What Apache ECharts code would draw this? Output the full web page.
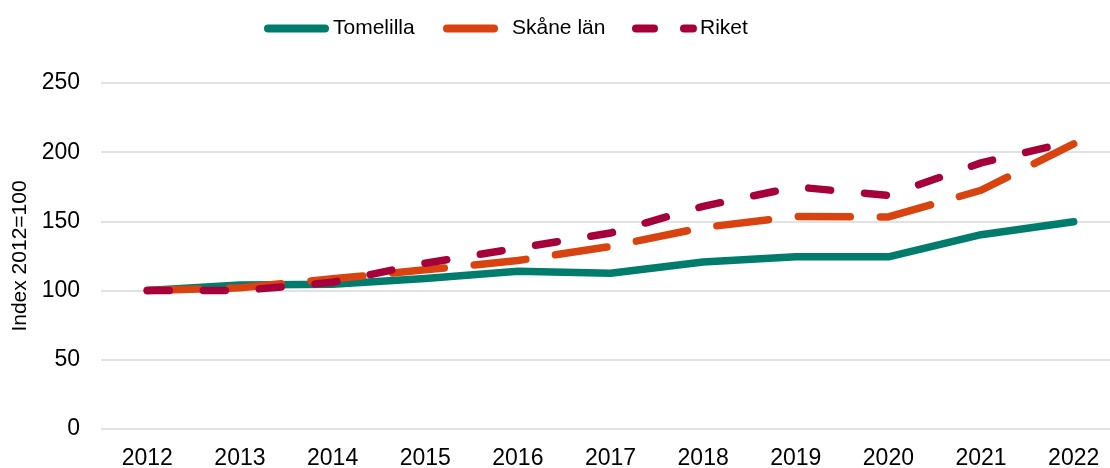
<!DOCTYPE html>
<html>
<head>
<meta charset="utf-8">
<script src="https://cdn.jsdelivr.net/npm/echarts@6/dist/echarts.min.js"></script>
<style>
  html, body { margin: 0; padding: 0; background: #fff; }
  #chart { width: 1110px; height: 468px; }
</style>
</head>
<body>
<div id="chart"></div>
<script>
// år på x-axeln
var years = ['2012', '2013', '2014', '2015', '2016', '2017', '2018', '2019', '2020', '2021', '2022'];
// index 2012=100
var tomelilla = [100, 104, 104.6, 108.7, 114, 112.6, 120.6, 124.4, 124.4, 140.4, 149.8];
var skane = [100, 102, 108.5, 115, 121.7, 131.9, 145.6, 153.6, 153.2, 172.5, 206];
var riket = [100, 100, 106, 119.8, 130.7, 141.6, 160.9, 174.9, 168.8, 192.3, 208];
var yTicks = [0, 50, 100, 150, 200, 250];

var font = 'Liberation Sans, Arial, sans-serif';
var cTeal = '#007c6d', cOrange = '#d9430f', cRed = '#a6003a';

// legendikoner, heldragen och streckad
var pill = 'path://M4,0 H61 A4,4 0 0 1 61,8 H4 A4,4 0 0 1 4,0 Z';
var pillShort = 'path://M4,0 H51 A4,4 0 0 1 51,8 H4 A4,4 0 0 1 4,0 Z';
var dashes = 'path://M4,0 H22 A4,4 0 0 1 22,8 H4 A4,4 0 0 1 4,0 Z M52,0 H61 A4,4 0 0 1 61,8 H52 A4,4 0 0 1 52,0 Z';

var chart = echarts.init(document.getElementById('chart'), null, { renderer: 'canvas' });

function leg(name, icon, left, w, gap) {
  return {
    data: [name],
    icon: icon,
    left: left,
    top: 18,
    padding: 0,
    itemWidth: w,
    itemHeight: 8,
    itemGap: 0,
    itemStyle: { borderWidth: 0 },
    textStyle: { fontFamily: font, fontSize: 21, color: '#000', padding: [0, 0, 0, gap] },
    selectedMode: false
  };
}

var option = {
  animation: false,
  legend: [
    leg('Tomelilla', pill, 264, 65, -1),
    leg('Skåne län', pillShort, 443, 55, 9),
    leg('Riket', dashes, 632, 65, -2)
  ],
  grid: { left: 101, top: 83, width: 1019, bottom: 39, outerBoundsMode: 'none', containLabel: false },
  xAxis: {
    type: 'category',
    data: years,
    boundaryGap: true,
    axisLine: { show: false },
    axisTick: { show: false },
    axisLabel: { fontFamily: font, fontSize: 23, color: '#000', margin: 18 }
  },
  yAxis: {
    type: 'value',
    min: yTicks[0],
    max: yTicks[yTicks.length - 1],
    interval: 50,
    name: 'Index 2012=100',
    nameLocation: 'middle',
    nameGap: 66,
    nameRotate: 90,
    nameTextStyle: { fontFamily: font, fontSize: 21, color: '#000' },
    axisLine: { show: false },
    axisTick: { show: false },
    axisLabel: { fontFamily: font, fontSize: 23, color: '#000', margin: 21, padding: [3, 0, 0, 0] },
    splitLine: { lineStyle: { color: '#d9d9d9', width: 1.5 } }
  },
  series: [
    {
      name: 'Tomelilla', type: 'line', data: tomelilla, symbol: 'none',
      lineStyle: { color: cTeal, width: 7.5, cap: 'round', join: 'round' },
      itemStyle: { color: cTeal }
    },
    {
      name: 'Skåne län', type: 'line', data: skane, symbol: 'none',
      lineStyle: { color: cOrange, width: 7.5, type: [52, 30], cap: 'round', join: 'round' },
      itemStyle: { color: cOrange }
    },
    {
      name: 'Riket', type: 'line', data: riket, symbol: 'none',
      lineStyle: { color: cRed, width: 7.5, type: [22, 34], cap: 'round', join: 'round' },
      itemStyle: { color: cRed }
    }
  ]
};

chart.setOption(option);
</script>
</body>
</html>
